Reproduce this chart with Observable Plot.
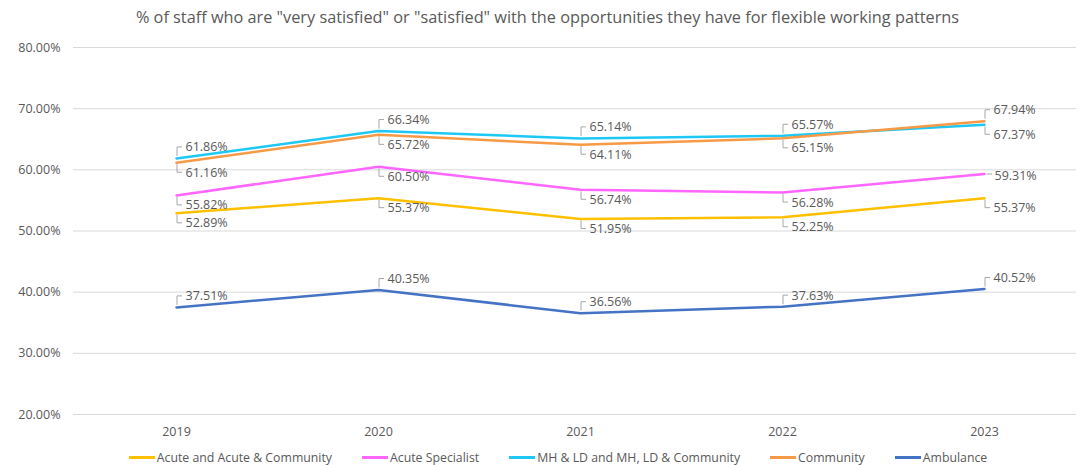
<!DOCTYPE html>
<html>
<head>
<meta charset="utf-8">
<script src="https://cdn.jsdelivr.net/npm/d3@7"></script>
<script src="https://cdn.jsdelivr.net/npm/@observablehq/plot@0.6"></script>
<style>
  html, body { margin: 0; padding: 0; background: #fff; overflow: hidden; }
  body { width: 1079px; height: 465px; font-family: "Open Sans", sans-serif; color: #595959; }
  #title { height: 34px; line-height: 34px; text-align: center; font-size: 16.3px; padding-left: 16px; white-space: nowrap; }
  #legend { display: flex; justify-content: center; align-items: center; height: 36px; padding-left: 37px; font-size: 12.3px; gap: 30px; white-space: nowrap; }
  #legend .item { display: flex; align-items: center; }
  #legend .sw { display: inline-block; width: 26px; height: 3px; margin-right: 2px; }
  svg { display: block; }
</style>
</head>
<body>
<div id="title">% of staff who are "very satisfied" or "satisfied" with the opportunities they have for flexible working patterns</div>
<div id="chart"></div>
<div id="legend"></div>
<script>
// ---- data ----
const years = ["2019", "2020", "2021", "2022", "2023"];
const seriesNames = ["Acute and Acute & Community", "Acute Specialist", "MH & LD and MH, LD & Community", "Community", "Ambulance"];
const seriesColors = ["#FFC000", "#FF66FF", "#1EC8F5", "#F79A46", "#4472C4"];
const acuteValues      = [52.89, 55.37, 51.95, 52.25, 55.37];
const specialistValues = [55.82, 60.50, 56.74, 56.28, 59.31];
const mhldValues       = [61.86, 66.34, 65.14, 65.57, 67.37];
const communityValues  = [61.16, 65.72, 64.11, 65.15, 67.94];
const ambulanceValues  = [37.51, 40.35, 36.56, 37.63, 40.52];
// label side for each point
const acuteSides      = ["below", "below", "below", "below", "below"];
const specialistSides = ["below", "below", "below", "below", "right"];
const mhldSides       = ["above", "above", "above", "above", "below"];
const communitySides  = ["below", "below", "below", "below", "above"];
const ambulanceSides  = ["above", "above", "above", "above", "above"];
const yTicks = [20, 30, 40, 50, 60, 70, 80];

const allValues = [acuteValues, specialistValues, mhldValues, communityValues, ambulanceValues];
const allSides = [acuteSides, specialistSides, mhldSides, communitySides, ambulanceSides];
const rows = [];
seriesNames.forEach((name, i) => {
  years.forEach((yr, j) => {
    rows.push({series: name, year: yr, value: allValues[i][j], side: allSides[i][j]});
  });
});
const fmt = v => v.toFixed(2) + "%";
const OFF = {above: -11, below: 10, right: 0};

function leaders(index, scales) {
  const g = d3.create("svg:g")
    .attr("fill", "none")
    .attr("stroke", "#A6A6A6")
    .attr("stroke-width", 1);
  for (const d of rows) {
    const x = scales.x(d.year);
    const y = scales.y(d.value);
    if (d.side === "right") {
      g.append("path").attr("d", `M${x + 3},${y + 0.5}H${x + 8}`);
    } else {
      const o = OFF[d.side];
      const y0 = y + (o < 0 ? -2 : 2);
      g.append("path").attr("d", `M${x + 1},${y0}V${y + o}H${x + 6}`);
    }
  }
  return g.node();
}

const plot = Plot.plot({
  width: 1079,
  height: 405,
  marginTop: 13,
  marginBottom: 25,
  marginLeft: 73,
  marginRight: 3,
  style: {fontFamily: "Open Sans, sans-serif", fontSize: "12.5px", color: "#595959", background: "#fff"},
  x: {type: "point", domain: years, range: [176, 984], padding: 0, label: null},
  y: {domain: [20, 80], label: null},
  color: {domain: seriesNames, range: seriesColors},
  marks: [
    Plot.gridY(yTicks, {stroke: "#D9D9D9", strokeOpacity: 1, strokeWidth: 1}),
    Plot.axisY(yTicks, {tickSize: 0, tickPadding: 13, tickFormat: d => d.toFixed(2) + "%", fill: "#595959", label: null}),
    Plot.axisX({tickSize: 0, tickPadding: 13, fill: "#595959", label: null}),
    leaders,
    Plot.line(rows, {x: "year", y: "value", z: "series", stroke: "series", strokeWidth: 2.5, curve: "linear"}),
    Plot.text(rows.filter(d => d.side === "above"), {x: "year", y: "value", text: d => fmt(d.value), dx: 9, dy: OFF.above, textAnchor: "start", fill: "#595959"}),
    Plot.text(rows.filter(d => d.side === "below"), {x: "year", y: "value", text: d => fmt(d.value), dx: 9, dy: OFF.below, textAnchor: "start", fill: "#595959"}),
    Plot.text(rows.filter(d => d.side === "right"), {x: "year", y: "value", text: d => fmt(d.value), dx: 10, dy: 2, textAnchor: "start", fill: "#595959"})
  ]
});
document.getElementById("chart").appendChild(plot);

const legend = document.getElementById("legend");
seriesNames.forEach((name, i) => {
  const item = document.createElement("div");
  item.className = "item";
  const sw = document.createElement("span");
  sw.className = "sw";
  sw.style.background = seriesColors[i];
  const t = document.createElement("span");
  t.textContent = name;
  item.appendChild(sw);
  item.appendChild(t);
  legend.appendChild(item);
});
</script>
</body>
</html>
